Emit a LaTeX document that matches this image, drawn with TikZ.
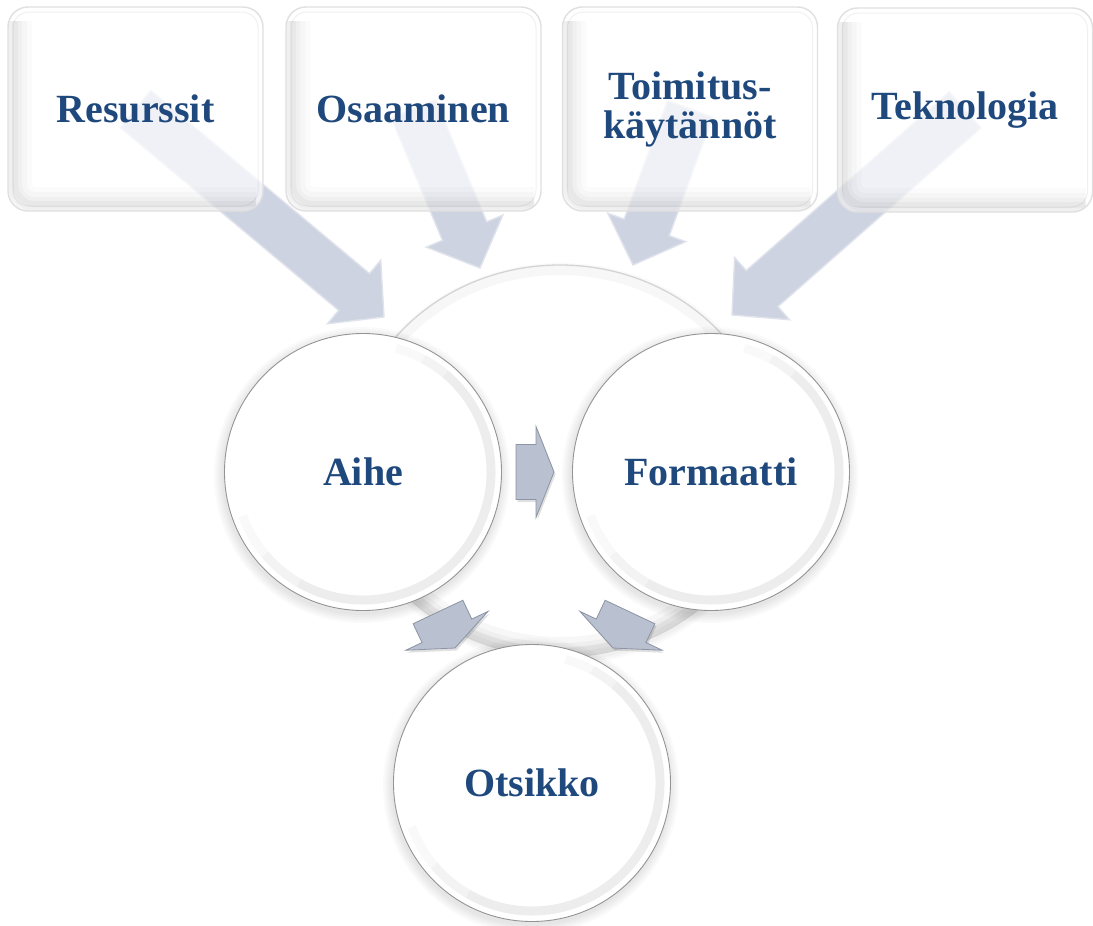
\documentclass[tikz,border=0pt]{standalone}
\usepackage{fontspec}
\setmainfont{Liberation Serif}
\usetikzlibrary{calc,shapes.geometric}
\definecolor{txt}{RGB}{31,73,125}
\definecolor{arrA}{RGB}{205,211,225}
\definecolor{arrAedge}{RGB}{224,227,236}
\definecolor{arrB}{RGB}{185,192,207}
\definecolor{arrBedge}{RGB}{140,148,165}

% block arrow: #1 style, #2 tail, #3 tip, #4 shaft half width, #5 head half width, #6 head length
\newcommand\blockarrow[6]{%
 \path[#1] let \p1=(#2), \p2=(#3), \n1={atan2(\y2-\y1,\x2-\x1)} in
  (\p2) -- ($(\p2)+({\n1+180}:#6pt)+({\n1+90}:#5pt)$)
  -- ($(\p2)+({\n1+180}:#6pt)+({\n1+90}:#4pt)$)
  -- ($(\p1)+({\n1+90}:#4pt)$)
  -- ($(\p1)+({\n1-90}:#4pt)$)
  -- ($(\p2)+({\n1+180}:#6pt)+({\n1-90}:#4pt)$)
  -- ($(\p2)+({\n1+180}:#6pt)+({\n1-90}:#5pt)$)
  -- cycle;}

\tikzset{
 lbl/.style={font=\bfseries\fontsize{40}{39}\selectfont, text=txt, align=center},
 topbox/.style={lbl, rectangle, rounded corners=20pt, minimum width=255pt, minimum height=204pt,
   fill=white, fill opacity=0.7, text opacity=1, draw=black!12, draw opacity=1, line width=1.4pt,
   path picture={
     \foreach \lw/\op in {34/0.015, 24/0.018, 14/0.022, 6/0.03}{
       \draw[black, draw opacity=\op, line width=\lw pt, line join=round]
         ($(path picture bounding box.north west)+(7pt,-14pt)$) --
         ($(path picture bounding box.south west)+(7pt,7pt)$) --
         ($(path picture bounding box.south east)+(-7pt,7pt)$);
     }
     \draw[black, draw opacity=0.06, line width=1pt, rounded corners=16pt]
       ($(path picture bounding box.north west)+(5pt,-5pt)$) rectangle
       ($(path picture bounding box.south east)+(-5pt,5pt)$);
   }},
 circ/.style={lbl, circle, minimum size=277pt, inner sep=0pt, fill=white, draw=black!42, line width=0.9pt,
   path picture={
     \foreach \sa/\ea in {75/-160, 62/-140, 50/-120}{
       \draw[black, draw opacity=0.022, line width=9pt] ($(path picture bounding box.center)+(\sa:128pt)$)
          arc[start angle=\sa, end angle=\ea, radius=128pt];
     }
   }},
 bigc/.style={ellipse, minimum width=424pt, minimum height=392pt, inner sep=0pt, fill=white, draw=black!17, line width=1.3pt,
   path picture={
     \draw[black, draw opacity=0.03, line width=10pt] (path picture bounding box.center) ellipse[x radius=207pt, y radius=191pt];
     \foreach \sa/\ea/\lw in {-5/-175/40, -15/-165/28, -25/-155/18, -35/-145/10}{
       \draw[black, draw opacity=0.03, line width=\lw pt]
         ($(path picture bounding box.center)+(\sa:212pt and 196pt)$)
         arc[start angle=\sa, end angle=\ea, x radius=212pt, y radius=196pt];
     }
   }},
 toparrow/.style={fill=arrA, draw=arrAedge, line width=1.4pt, line join=miter},
 smallarrow/.style={fill=arrB, draw=arrBedge, line width=0.8pt, line join=miter},
 shadowarrow/.style={fill=black, fill opacity=0.12},
}

\begin{document}
\begin{tikzpicture}[x=1pt,y=-1pt]
\useasboundingbox[fill=white] (0,0) rectangle (1093,926);

% centres
\coordinate (cBig) at (560,461);
\coordinate (cA) at (363,472);
\coordinate (cF) at (711,472);
\coordinate (cO) at (532,783);

% big background ellipse with soft shadow
\foreach \rx/\ry in {213/197, 215/199, 217/201}{\fill[black, opacity=0.02] ($(cBig)+(1pt,-3pt)$) ellipse[x radius=\rx pt, y radius=\ry pt];}
\node[bigc] (big) at (cBig) {};

% top box centres and arrow tips
\coordinate (b1) at (135.5,109);
\coordinate (b2) at (413.5,109);
\coordinate (b3) at (690,109);
\coordinate (b4) at (965,110);
\coordinate (p1) at (384,317);
\coordinate (p2) at (480,268);
\coordinate (p3) at (633,265);
\coordinate (p4) at (732,315);

% arrows from the top boxes (drawn beneath the translucent boxes)
\blockarrow{toparrow}{b1}{p1}{24}{41.5}{39}
\blockarrow{toparrow}{b2}{p2}{24}{41.5}{40}
\blockarrow{toparrow}{b3}{p3}{24}{41.5}{40}
\blockarrow{toparrow}{b4}{p4}{24}{41.5}{40}

% top boxes
\node[topbox] (res) at (b1) {Resurssit};
\node[topbox] (osa) at (b2) {Osaaminen};
\node[topbox] (toi) at (b3) {Toimitus-\\käytännöt};
\node[topbox] (tek) at (b4) {Teknologia};

% circle shadows
\foreach \c in {cA,cF,cO}{
  \foreach \r in {140,142,144,146,148}{\fill[black, opacity=0.02] ($(\c)+(-1pt,-3pt)$) circle[radius=\r pt];}
}
\node[circ] (aihe) at (cA) {Aihe};
\node[circ] (form) at (cF) {Formaatti};
\node[circ] (ots) at (cO) {Otsikko};

% small arrows between the circles
\coordinate (s1a) at (516,472);
\coordinate (s1b) at (554,472);
\coordinate (s2a) at (438,612);
\coordinate (s2b) at (455,648);
\coordinate (s3a) at (630,612);
\coordinate (s3b) at (613,648);
\begin{scope}[transform canvas={shift={(1.5pt,-2.5pt)}}]
\blockarrow{shadowarrow}{s1a}{s1b}{27.5}{45.5}{18}
\blockarrow{shadowarrow}{s2a}{s2b}{27.5}{45.5}{19}
\blockarrow{shadowarrow}{s3a}{s3b}{27.5}{45.5}{19}
\end{scope}
\blockarrow{smallarrow}{s1a}{s1b}{27.5}{45.5}{18}
\blockarrow{smallarrow}{s2a}{s2b}{27.5}{45.5}{19}
\blockarrow{smallarrow}{s3a}{s3b}{27.5}{45.5}{19}
\end{tikzpicture}
\end{document}
